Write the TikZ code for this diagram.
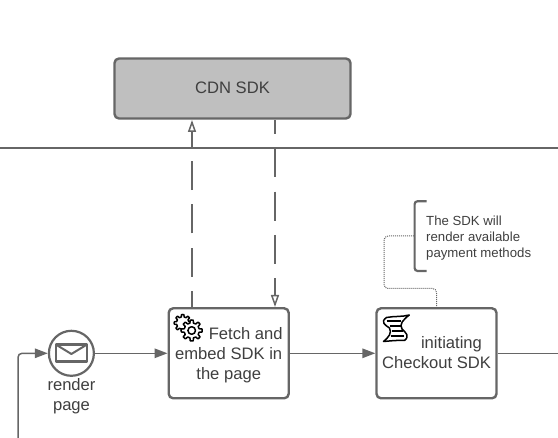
\documentclass[tikz,border=0pt]{standalone}
\usepackage{fontspec}
\setmainfont{Liberation Sans}
\usetikzlibrary{arrows.meta}
\definecolor{linegray}{HTML}{666666}
\definecolor{txtgray}{HTML}{3F3F3F}
\definecolor{sysfill}{HTML}{BFBFBF}
\newcommand{\gearshape}[5]{% cx cy rout rin teeth
  \begin{scope}[shift={(#1,#2)}]
    \pgfmathsetmacro{\gstep}{360/#5}
    \draw[iconline,fill=white] (0:#3)
      \foreach \k in {1,...,#5}{
        -- ({(\k-1)*\gstep+0.18*\gstep}:#3)
        -- ({(\k-1)*\gstep+0.30*\gstep}:#4)
        -- ({(\k-1)*\gstep+0.70*\gstep}:#4)
        -- ({(\k-1)*\gstep+0.82*\gstep}:#3)
        -- ({\k*\gstep}:#3)
      } -- cycle;
  \end{scope}}
\tikzset{
  lane/.style={draw=linegray,line width=2.4pt},
  taskbox/.style={draw=linegray,line width=2.4pt,rounded corners=4.5pt,fill=white,
    minimum width=120pt,minimum height=90pt,inner sep=0pt,text=txtgray,align=center,
    font=\fontsize{16.6}{20}\selectfont},
  sysbox/.style={taskbox,fill=sysfill,minimum width=236pt,minimum height=60pt},
  flow/.style={draw=linegray,line width=1.5pt,-{Triangle[length=13pt,width=9.5pt,fill=linegray]},rounded corners=4pt},
  plainflow/.style={draw=linegray,line width=1.5pt},
  msgflow/.style={draw=linegray,line width=1.5pt,dash pattern=on 29pt off 14.3pt,
    -{Triangle[open,length=12pt,width=8pt,fill=white]}},
  assoc/.style={draw=linegray,line width=1pt,densely dotted,rounded corners=4pt},
  iconline/.style={draw=black,line width=1.5pt,line join=round},
  note/.style={text=txtgray,align=left,inner sep=0pt,font=\fontsize{13.2}{16}\selectfont},
  label/.style={text=txtgray,align=center,inner sep=0pt,font=\fontsize{16.6}{20}\selectfont}
}
\begin{document}
\begin{tikzpicture}[x=1pt,y=-1pt]
\useasboundingbox (0,0) rectangle (558,438);
\coordinate (laneL) at (0,148);
\coordinate (laneR) at (558,148);
\draw[lane] (laneL) -- (laneR);

\node[sysbox] (cdn) at (232.5,88.5) {CDN SDK\rule[-2pt]{0pt}{0pt}};
\node[taskbox] (fetch) at (228.7,353.3) {\rule{0pt}{15.4pt}\hspace*{34pt}Fetch and\\embed SDK in\\the page};
\node[taskbox] (checkout) at (436.5,353.3) {\hspace*{30pt}initiating\\Checkout SDK\rule[-2.6pt]{0pt}{0pt}};
\node[circle,draw=linegray,line width=2.2pt,fill=white,minimum size=45pt,inner sep=0pt] (start) at (71.4,353.3) {};
\node[label] (startlabel) at (71.5,396) {render\\page};

% envelope
\draw[draw=linegray,line width=2.2pt,line join=round] (55.8,344.5) rectangle (87,361.5);
\draw[draw=linegray,line width=2pt,line join=round] (55.8,344.5) -- (71.4,354) -- (87,344.5);

% gears
\gearshape{182.7}{323}{8.5}{6.2}{8}
\gearshape{191.7}{330.5}{10.5}{7.6}{8}
\draw[iconline] (191.7,330.5) circle (3.8);

% scroll
\draw[iconline,line width=1.5pt]
  (386.5,317.5) .. controls (394,316) and (402,317) .. (409.3,315)
  .. controls (403,320) and (399,324) .. (402,329)
  .. controls (406,333) and (410,336) .. (404.5,340.5)
  .. controls (397,340) and (390,341) .. (383.5,341.5)
  .. controls (389,337) and (392,333) .. (389.5,328)
  .. controls (385,325) and (380,322) .. (386.5,317.5) -- cycle;
\draw[black,line width=1.6pt] (386.5,321.2) -- (401,321.2) (389.5,326.2) -- (400.5,326.2)
  (391.5,331.2) -- (403,331.2) (390.5,336.2) -- (404,336.2);

% connectors
\coordinate (inlet) at (18,438);
\coordinate (outlet) at (558,353.3);
\draw[flow] (inlet) |- (start.west);
\draw[flow] (start.east) -- (fetch.west);
\draw[flow] (fetch.east) -- (checkout.west);
\draw[plainflow] (checkout.east) -- (outlet);
\coordinate (fetchUp) at (192,307);
\coordinate (cdnUp) at (192,120);
\coordinate (cdnDown) at (275,120);
\coordinate (fetchDown) at (275,307);
\draw[msgflow,dash phase=13pt] (fetchUp) -- (cdnUp);
\draw[msgflow,dash phase=15pt] (cdnDown) -- (fetchDown);

% annotation
\draw[draw=linegray,line width=2.2pt,rounded corners=3pt] (426.7,201.2) -- (414.6,201.2) -- (414.6,271) -- (426.7,271);
\coordinate (noteMid) at (414,236);
\node[note,anchor=west] (notetext) at (426,238) {The SDK will\\render available\\payment methods};
\coordinate (chkTop) at (436.5,307);
\draw[assoc] (noteMid) -- (384,236) -- (384,288.5) -- (436.5,288.5) -- (chkTop);
\end{tikzpicture}
\end{document}
